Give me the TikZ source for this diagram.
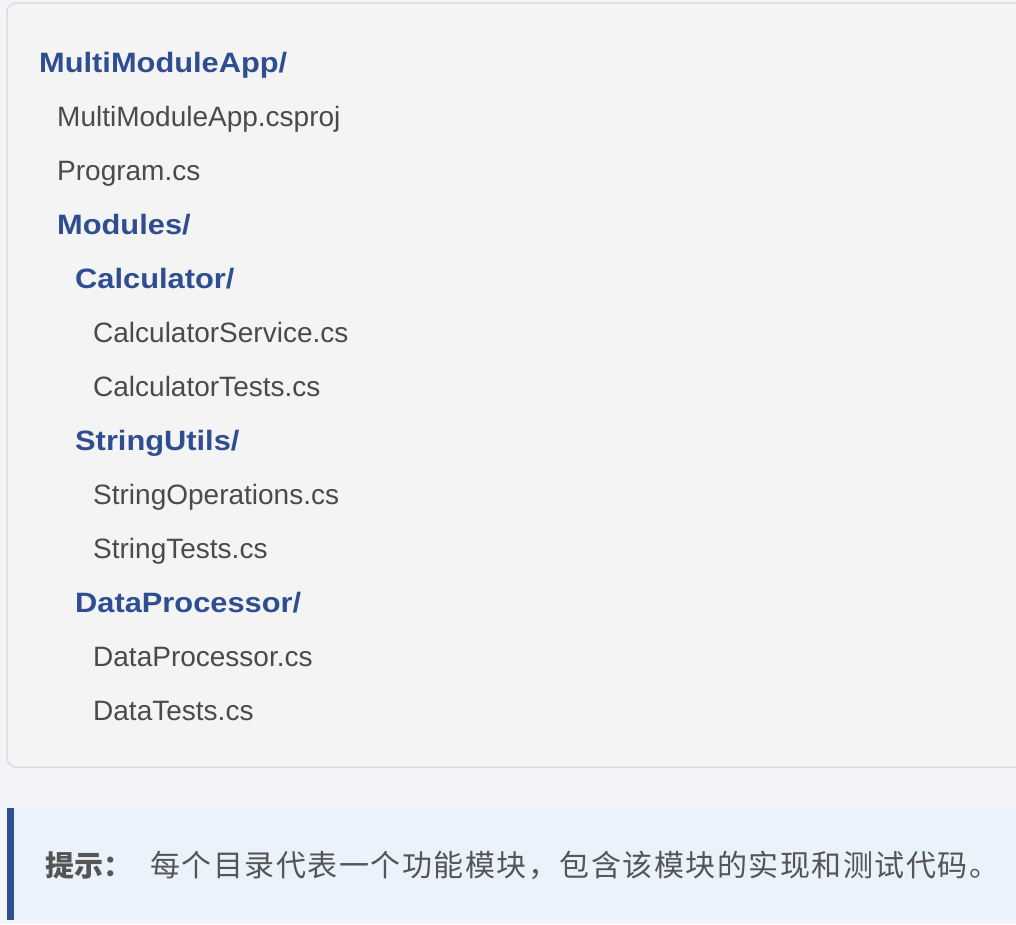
\documentclass[tikz,border=0pt]{standalone}
\usepackage{fontspec}
\usepackage{xcolor}
\setmainfont{Liberation Sans}
\newfontfamily\dirfont[FakeStretch=1.1]{Liberation Sans}
\newfontfamily\cjk{Noto Sans CJK SC}
\newfontfamily\cjkwide[LetterSpace=5]{Noto Sans CJK SC}

\definecolor{pagebg}{HTML}{F3F4F8}
\definecolor{treebg}{HTML}{F4F4F4}
\definecolor{treeline}{HTML}{DCDCDE}
\definecolor{dirblue}{HTML}{2F4E91}
\definecolor{filegray}{HTML}{4A4A4A}
\definecolor{tipbg}{HTML}{EAF3FC}
\definecolor{tipbar}{HTML}{2F4E91}
\definecolor{tipgray}{HTML}{555555}

\tikzset{
  dirname/.style={anchor=base west,inner sep=0pt,text=dirblue,font=\dirfont\fontsize{28}{34}\selectfont\bfseries},
  filename/.style={anchor=base west,inner sep=0pt,text=filegray,font=\fontsize{28}{34}\selectfont},
}

\begin{document}
\begin{tikzpicture}[x=1pt,y=-1pt]
        \fill[pagebg] (0,0) rectangle (1016,924);
        \useasboundingbox (0,0) rectangle (1016,924);
        \clip (0,0) rectangle (1016,924);

        \draw[treeline,fill=treebg,line width=1.5pt,rounded corners=9pt] (7,3) rectangle (1040,767);

        \fill[tipbg] (7,808) rectangle (1016,920);
        \fill[tipbar] (7,808) rectangle (14,920);

        \node[dirname] (root) at (39,72) {MultiModuleApp/};
        \node[filename] (csproj) at (57,126) {MultiModuleApp.csproj};
        \node[filename] (program) at (57,180) {Program.cs};
        \node[dirname] (modules) at (57,234) {Modules/};
        \node[dirname] (calc) at (75,288) {Calculator/};
        \node[filename] (calcsvc) at (93,342) {CalculatorService.cs};
        \node[filename] (calctest) at (93,396) {CalculatorTests.cs};
        \node[dirname] (strutil) at (75,450) {StringUtils/};
        \node[filename] (strops) at (93,504) {StringOperations.cs};
        \node[filename] (strtest) at (93,558) {StringTests.cs};
        \node[dirname] (dataproc) at (75,612) {DataProcessor/};
        \node[filename] (datasrc) at (93,666) {DataProcessor.cs};
        \node[filename] (datatest) at (93,720) {DataTests.cs};

        \node[anchor=west,inner sep=0pt,text=tipgray,font=\cjk\fontsize{29}{34}\selectfont\bfseries] (tiplabel) at (45,865) {提示：};
        \node[anchor=west,inner sep=0pt,text=tipgray,font=\cjkwide\fontsize{30}{36}\selectfont] (tiptext) at (150,865) {每个目录代表一个功能模块，包含该模块的实现和测试代码。};
      \end{tikzpicture}
\end{document}
